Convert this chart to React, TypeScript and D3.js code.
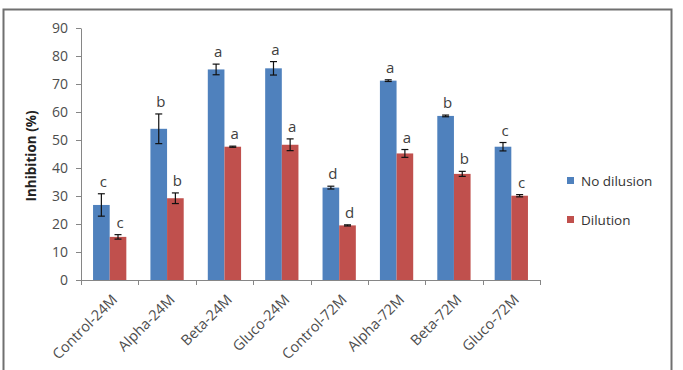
import React, { useRef, useEffect } from 'react';
import * as d3 from 'd3';

const categories = ['Control-24M', 'Alpha-24M', 'Beta-24M', 'Gluco-24M', 'Control-72M', 'Alpha-72M', 'Beta-72M', 'Gluco-72M'];
const seriesNames = ['No dilusion', 'Dilution'];
const noDilution = [26.8, 54, 75.2, 75.6, 33, 71.2, 58.6, 47.6];
const noDilutionErr = [4, 5.3, 1.9, 2.4, 0.5, 0.3, 0.3, 1.5];
const dilution = [15.4, 29.2, 47.6, 48.3, 19.5, 45.2, 37.9, 30.1];
const dilutionErr = [0.8, 1.9, 0.2, 2.1, 0.2, 1.4, 0.9, 0.4];
const noDilutionLetters = ['c', 'b', 'a', 'a', 'd', 'a', 'b', 'c'];
const dilutionLetters = ['c', 'b', 'a', 'a', 'd', 'a', 'b', 'c'];
const yTicks = [0, 10, 20, 30, 40, 50, 60, 70, 80, 90];

const colors = ['#4f81bd', '#c0504d'];
const font = '"Open Sans", "DejaVu Sans", sans-serif';

const App: React.FC = () => {
  const ref = useRef<SVGSVGElement | null>(null);

  useEffect(() => {
    if (!ref.current) return;
    const svg = d3.select(ref.current);
    svg.selectAll('*').remove();

    const height = 370;
    const left = 81, right = 540, top = 28, bottom = 280;

    // outer frame
    svg.append('rect')
      .attr('x', 3.5).attr('y', 9.5)
      .attr('width', 668).attr('height', height)
      .attr('fill', '#fff')
      .attr('stroke', '#707070')
      .attr('stroke-width', 2);

    const x0 = d3.scaleBand<string>().domain(categories).range([left, right]).paddingInner(0.42).paddingOuter(0.21);
    const x1 = d3.scaleBand<string>().domain(seriesNames).range([0, x0.bandwidth()]);
    const y = d3.scaleLinear().domain([0, 90]).range([bottom, top]);

    // y axis
    const yAxis = svg.append('g')
      .attr('transform', `translate(${left},0)`)
      .call(d3.axisLeft(y).tickValues(yTicks).tickSize(5).tickSizeOuter(0).tickPadding(8));
    yAxis.selectAll('.domain, .tick line').attr('stroke', '#868686');
    yAxis.selectAll('.tick text')
      .attr('fill', '#4d4d4d')
      .style('font-size', '14px')
      .style('font-family', font);

    // x axis line and ticks at band boundaries
    const step = x0.step();
    svg.append('line')
      .attr('x1', left).attr('x2', right)
      .attr('y1', bottom + 0.5).attr('y2', bottom + 0.5)
      .attr('stroke', '#868686');
    d3.range(categories.length + 1).forEach(i => {
      const tx = Math.round(left + i * step) + 0.5;
      svg.append('line')
        .attr('x1', tx).attr('x2', tx)
        .attr('y1', bottom).attr('y2', bottom + 5)
        .attr('stroke', '#868686');
    });

    // category labels, rotated
    svg.append('g').selectAll('text')
      .data(categories)
      .join('text')
      .attr('transform', d => `translate(${(x0(d) ?? 0) + x0.bandwidth() / 2 + 5},${bottom + 17}) rotate(-45)`)
      .attr('text-anchor', 'end')
      .attr('dy', '0.35em')
      .attr('fill', '#4d4d4d')
      .style('font-size', '14.5px')
      .style('font-family', font)
      .text(d => d);

    // y axis title
    svg.append('text')
      .attr('transform', `translate(36,${(top + bottom) / 2 + 2}) rotate(-90)`)
      .attr('text-anchor', 'middle')
      .attr('fill', '#222')
      .style('font-size', '13.5px')
      .style('font-weight', 'bold')
      .style('font-family', font)
      .text('Inhibition (%)');

    const series = [
      { name: seriesNames[0], values: noDilution, errs: noDilutionErr, letters: noDilutionLetters },
      { name: seriesNames[1], values: dilution, errs: dilutionErr, letters: dilutionLetters },
    ];

    series.forEach((s, si) => {
      const g = svg.append('g');
      const bx = (i: number) => (x0(categories[i]) ?? 0) + (x1(s.name) ?? 0);
      const bw = x1.bandwidth();
      const idx = d3.range(categories.length);

      g.selectAll('rect')
        .data(idx)
        .join('rect')
        .attr('x', i => bx(i))
        .attr('y', i => y(s.values[i]))
        .attr('width', bw)
        .attr('height', i => y(0) - y(s.values[i]))
        .attr('fill', colors[si]);

      // error bars
      idx.forEach(i => {
        const cx = bx(i) + bw / 2;
        const y1 = y(s.values[i] + s.errs[i]);
        const y2 = y(s.values[i] - s.errs[i]);
        g.append('line').attr('x1', cx).attr('x2', cx).attr('y1', y1).attr('y2', y2)
          .attr('stroke', '#111').attr('stroke-width', 1.2);
        [y1, y2].forEach(yy => {
          g.append('line').attr('x1', cx - 3.5).attr('x2', cx + 3.5).attr('y1', yy).attr('y2', yy)
            .attr('stroke', '#111').attr('stroke-width', 1.2);
        });
      });

      // significance letters
      g.selectAll('text')
        .data(idx)
        .join('text')
        .attr('x', i => bx(i) + bw / 2 + 2)
        .attr('y', i => y(s.values[i] + s.errs[i]) - 7)
        .attr('text-anchor', 'middle')
        .attr('fill', '#404040')
        .style('font-size', '15px')
        .style('font-family', font)
        .text(i => s.letters[i]);
    });

    // legend
    const legend = svg.append('g').attr('transform', 'translate(567,181)');
    seriesNames.forEach((name, i) => {
      const row = legend.append('g').attr('transform', `translate(0,${i * 39})`);
      row.append('rect').attr('x', 0).attr('y', -4).attr('width', 7).attr('height', 7).attr('fill', colors[i]);
      row.append('text')
        .attr('x', 14).attr('y', 0).attr('dy', '0.35em')
        .attr('fill', '#333')
        .style('font-size', '13.5px')
        .style('font-family', font)
        .text(name);
    });
  }, []);

  return (
    <div style={{ position: 'fixed', left: 0, top: 0, width: 683, height: 370, background: '#fff' }}>
      <svg ref={ref} width={683} height={370} />
    </div>
  );
};

export default App;
